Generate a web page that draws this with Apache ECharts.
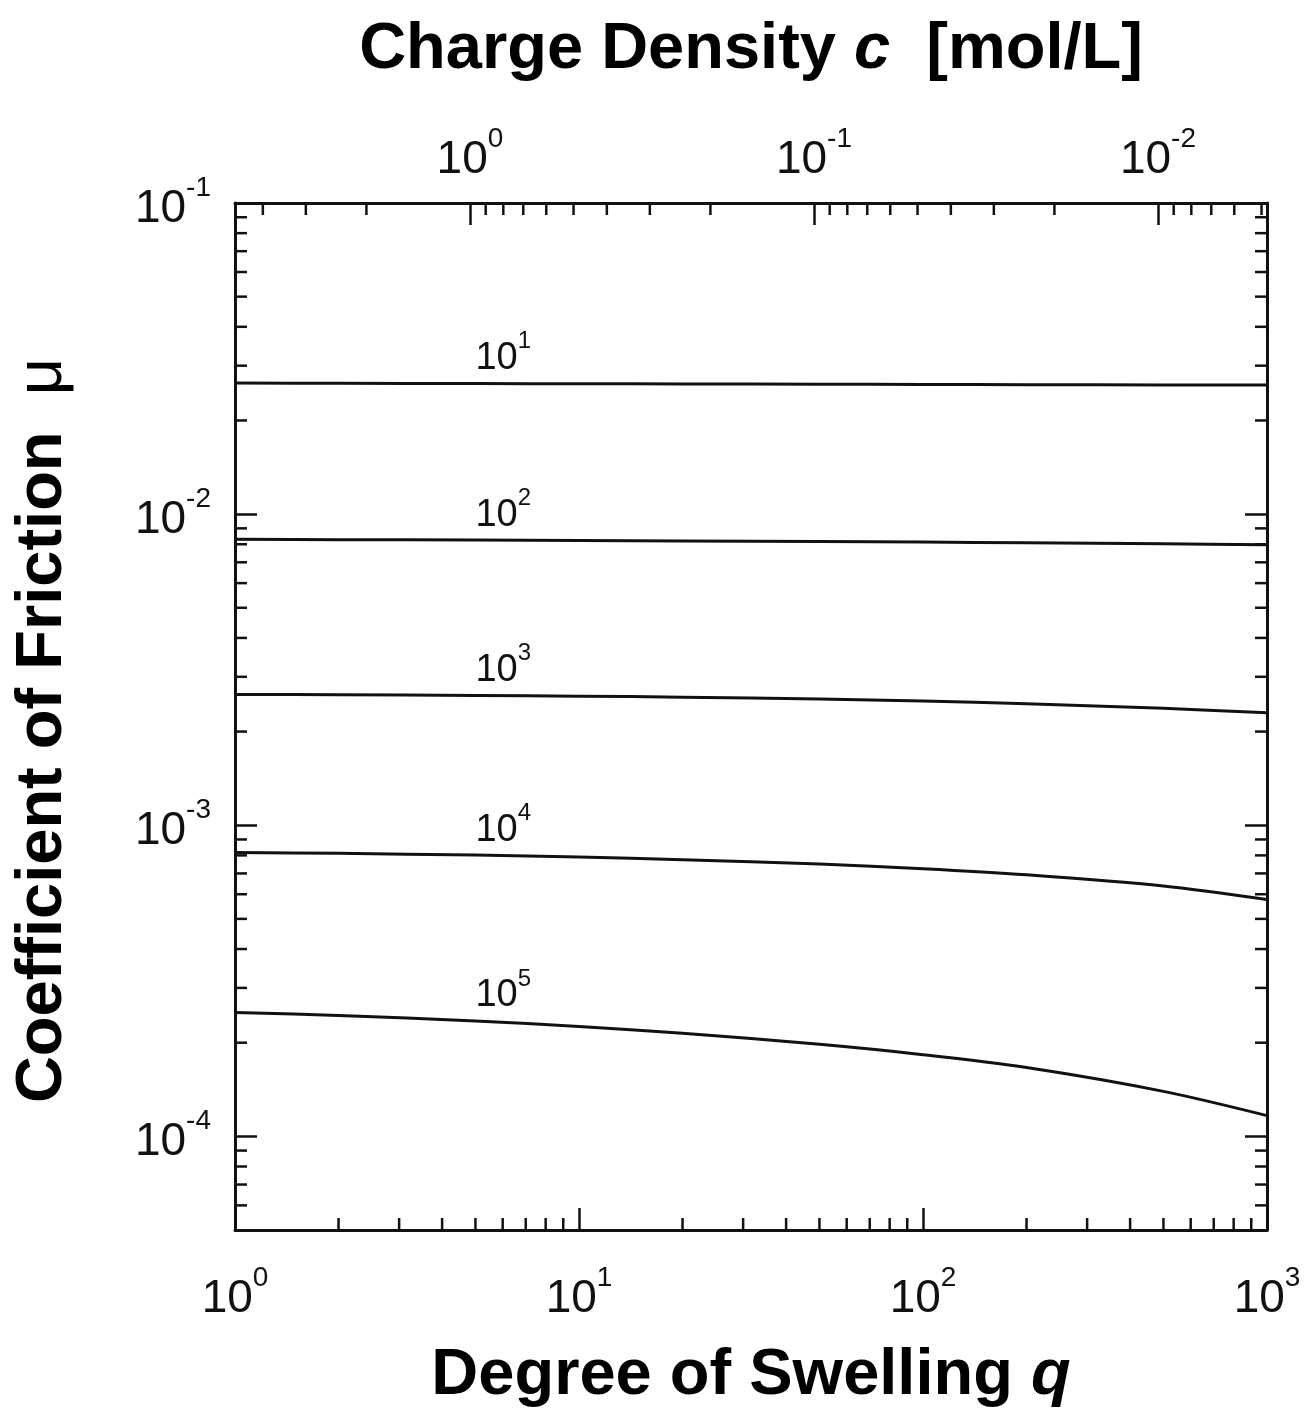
<!DOCTYPE html>
<html>
<head>
<meta charset="utf-8">
<script src="https://cdn.jsdelivr.net/npm/echarts@6/dist/echarts.min.js"></script>
<style>
  html, body { margin: 0; padding: 0; background: #ffffff; }
  #chart { width: 1312px; height: 1414px; }
</style>
</head>
<body>
<div id="chart"></div>
<script>
// Degree of swelling q (bottom axis)
const swelling = [1, 2, 5, 10, 20, 50, 100, 200, 500, 1000];

// Coefficient of friction for each curve parameter
const mu1e1 = [0.02637, 0.02633, 0.02628, 0.02624, 0.02620, 0.02615, 0.02611, 0.02607, 0.02602, 0.02598];
const mu1e2 = [0.008299, 0.008279, 0.008251, 0.008228, 0.008202, 0.008162, 0.008128, 0.008087, 0.008024, 0.007969];
const mu1e3 = [0.002632, 0.002627, 0.002614, 0.002600, 0.002580, 0.002544, 0.002506, 0.002458, 0.002375, 0.002298];
const mu1e4 = [0.000817, 0.000812, 0.000802, 0.000790, 0.000775, 0.000750, 0.000725, 0.000693, 0.000638, 0.000577];
const mu1e5 = [0.0002500, 0.0002447, 0.0002349, 0.0002256, 0.0002145, 0.0001976, 0.0001830, 0.0001664, 0.0001395, 0.0001166];

const curves = [mu1e1, mu1e2, mu1e3, mu1e4, mu1e5];
const curveExponents = ['1', '2', '3', '4', '5'];
const labelIndex = 2; // curve labels sit at q = 5

// Axis ranges
const qRange = [1, 1000];
const muRange = [5e-5, 1e-1];
// Charge density c = c0 / q (top axis, reversed)
const chargeAtUnitSwelling = 4.82;
const cRange = [chargeAtUnitSwelling / qRange[1], chargeAtUnitSwelling / qRange[0]];

const FONT = '"Liberation Sans", Arial, Helvetica, sans-serif';
const INK = '#111111';

function expLabel(v) {
  return '{b|10}{s|' + Math.round(Math.log10(v)) + '}';
}

// Minor tick values 2..9 x 10^k strictly inside a range
function minorValues(lo, hi) {
  const out = [];
  for (let e = Math.floor(Math.log10(lo)); e <= Math.ceil(Math.log10(hi)); e++) {
    for (let m = 2; m <= 9; m++) {
      const v = m * Math.pow(10, e);
      if (v > lo * 1.0001 && v < hi * 0.9999) out.push(v);
    }
  }
  return out;
}

const tickRich = {
  b: { fontSize: 46, lineHeight: 58, fontFamily: FONT, color: INK, verticalAlign: 'bottom' },
  s: { fontSize: 28, lineHeight: 20, fontFamily: FONT, color: INK, verticalAlign: 'top' }
};
const curveRich = {
  b: { fontSize: 38, lineHeight: 48, fontFamily: FONT, color: INK, verticalAlign: 'bottom' },
  s: { fontSize: 24, lineHeight: 17, fontFamily: FONT, color: INK, verticalAlign: 'top' }
};
const titleRich = {
  n: { fontSize: 65, fontWeight: 'bold', fontFamily: FONT, color: '#000' },
  i: { fontSize: 65, fontWeight: 'bold', fontStyle: 'italic', fontFamily: FONT, color: '#000' },
  m: { fontSize: 65, fontFamily: FONT, color: '#000' }
};

const MAJOR = 22, MINOR = 12, TICK_W = 2.5, FRAME_W = 3;

function axisCommon() {
  return {
    type: 'log',
    logBase: 10,
    axisLine: { show: true, onZero: false, lineStyle: { color: INK, width: FRAME_W } },
    axisTick: { show: true, inside: true, length: MAJOR, lineStyle: { color: INK, width: TICK_W } },
    minorTick: { show: false },
    splitLine: { show: false }
  };
}

function tickSeries(name, xAxisIndex, data, toSegment) {
  return {
    name: name,
    type: 'custom',
    xAxisIndex: xAxisIndex,
    yAxisIndex: 0,
    silent: true,
    clip: false,
    z: 5,
    data: data,
    renderItem: function (params, api) {
      const p = api.coord([api.value(0), api.value(1)]);
      const seg = toSegment(p);
      return {
        type: 'line',
        shape: { x1: seg[0], y1: seg[1], x2: seg[2], y2: seg[3] },
        style: { stroke: INK, lineWidth: TICK_W }
      };
    }
  };
}

const lineSeries = curves.map(function (vals, i) {
  return {
    name: '10^' + curveExponents[i],
    type: 'line',
    xAxisIndex: 0,
    yAxisIndex: 0,
    data: swelling.map(function (q, j) { return [q, vals[j]]; }),
    smooth: 0.3,
    showSymbol: false,
    symbol: 'none',
    lineStyle: { color: INK, width: 3 },
    z: 3,
    markPoint: {
      symbol: 'circle',
      symbolSize: 0,
      silent: true,
      data: [{ coord: [swelling[labelIndex], vals[labelIndex]] }],
      label: {
        show: true,
        position: [0, -6],
        align: 'left',
        verticalAlign: 'bottom',
        formatter: '{b|10}{s|' + curveExponents[i] + '}',
        rich: curveRich
      }
    }
  };
});

const option = {
  backgroundColor: '#ffffff',
  animation: false,
  grid: { left: 235, top: 203, width: 1032, height: 1031, containLabel: false },
  xAxis: [
    Object.assign(axisCommon(), {
      position: 'bottom',
      min: qRange[0],
      max: qRange[1],
      name: '{n|Degree of Swelling }{i|q}',
      nameLocation: 'middle',
      nameGap: 114,
      nameTextStyle: { rich: titleRich },
      axisLabel: {
        show: true, margin: 34, formatter: expLabel, rich: tickRich,
        showMinLabel: true, showMaxLabel: true
      }
    }),
    Object.assign(axisCommon(), {
      position: 'top',
      inverse: true,
      min: cRange[0],
      max: cRange[1],
      name: '{n|Charge Density }{i|c}{n|  [mol/L]}',
      nameLocation: 'middle',
      nameGap: 120,
      nameTextStyle: { rich: titleRich },
      axisLabel: {
        show: true, margin: 20, formatter: expLabel, rich: tickRich,
        showMinLabel: false, showMaxLabel: false
      }
    })
  ],
  yAxis: [
    Object.assign(axisCommon(), {
      position: 'left',
      min: muRange[0],
      max: muRange[1],
      name: '{n|Coefficient of Friction  }{m|μ}',
      nameLocation: 'middle',
      nameGap: 159,
      nameTextStyle: { padding: [0, 28, 0, 0], rich: titleRich },
      axisLabel: {
        show: true, margin: 24, formatter: expLabel, rich: tickRich,
        showMinLabel: false, showMaxLabel: true
      }
    }),
    Object.assign(axisCommon(), {
      position: 'right',
      min: muRange[0],
      max: muRange[1],
      axisLabel: { show: false }
    })
  ],
  series: lineSeries.concat([
    tickSeries('bottom-minor', 0,
      minorValues(qRange[0], qRange[1]).map(function (v) { return [v, muRange[0]]; }),
      function (p) { return [p[0], p[1], p[0], p[1] - MINOR]; }),
    tickSeries('top-minor', 1,
      minorValues(cRange[0], cRange[1]).map(function (v) { return [v, muRange[1]]; }),
      function (p) { return [p[0], p[1], p[0], p[1] + MINOR]; }),
    tickSeries('left-minor', 0,
      minorValues(muRange[0], muRange[1]).map(function (v) { return [qRange[0], v]; }),
      function (p) { return [p[0], p[1], p[0] + MINOR, p[1]]; }),
    tickSeries('right-minor', 0,
      minorValues(muRange[0], muRange[1]).map(function (v) { return [qRange[1], v]; }),
      function (p) { return [p[0], p[1], p[0] - MINOR, p[1]]; })
  ])
};

const chart = echarts.init(document.getElementById('chart'), null, { renderer: 'canvas' });
chart.setOption(option);
</script>
</body>
</html>
